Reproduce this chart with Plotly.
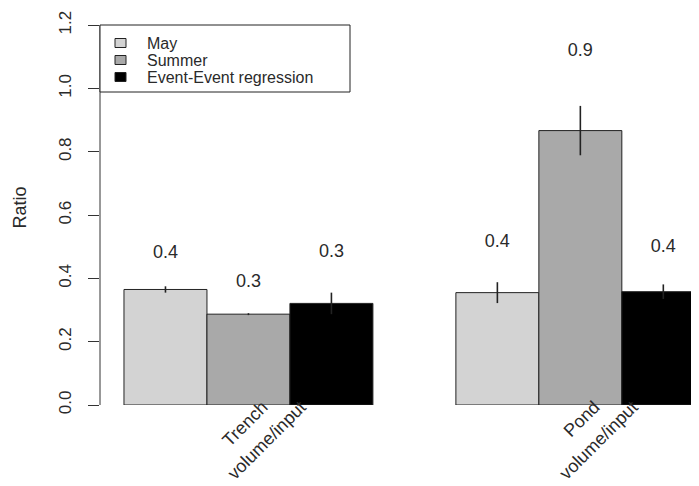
import plotly.graph_objects as go

sites = ["Trench", "Pond"]
site_sub = "volume/input"
series = ["May", "Summer", "Event-Event regression"]
values = {
    "May": [0.365, 0.355],
    "Summer": [0.287, 0.867],
    "Event-Event regression": [0.321, 0.358],
}
errors = {
    "May": [0.010, 0.033],
    "Summer": [0.003, 0.078],
    "Event-Event regression": [0.034, 0.023],
}
labels = {
    "May": ["0.4", "0.4"],
    "Summer": ["0.3", "0.9"],
    "Event-Event regression": ["0.3", "0.4"],
}
colors = {"May": "#d3d3d3", "Summer": "#a9a9a9", "Event-Event regression": "#000000"}
ytick_vals = [0.0, 0.2, 0.4, 0.6, 0.8, 1.0, 1.2]
ytick_text = ["0.0", "0.2", "0.4", "0.6", "0.8", "1.0", "1.2"]

FONT = "Liberation Sans, Arial, sans-serif"
TXT = "#2a2a2a"
OFF = 8  # page body margin
W, H = 699 - OFF, 486 - OFF
ML, MR, MT, MB = 92, 0, 2, 81
PW, PH = W - ML - MR, H - MT - MB
YMAX = 1.248

def px_x(p):
    return (p - OFF - ML) / PW

def px_y(p):
    return (H - MB - (p - OFF)) / PH

n_series = len(series)
group_step = n_series + 1

fig = go.Figure()
for i, s in enumerate(series):
    xs = [g * group_step + i for g in range(len(sites))]
    fig.add_trace(go.Bar(
        x=xs, y=values[s], width=1, name=s, showlegend=False,
        marker=dict(color=colors[s], line=dict(color="#222222", width=1)),
        error_y=dict(type="data", array=errors[s], visible=True, color="#222222",
                     thickness=1.6, width=0),
    ))
for i, s in enumerate(series):
    xs = [g * group_step + i for g in range(len(sites))]
    ys = [v + 2 * e + 0.093 for v, e in zip(values[s], errors[s])]
    fig.add_trace(go.Scatter(
        x=xs, y=ys, mode="text", text=labels[s], showlegend=False,
        textfont=dict(family=FONT, size=18, color=TXT), hoverinfo="skip",
    ))

# y axis line from 0 to 1.2
fig.add_shape(type="line", xref="paper", x0=0, x1=0, yref="y", y0=0, y1=1.2,
              line=dict(color="#333333", width=1))

# legend box (R style)
fig.add_shape(type="rect", xref="paper", yref="paper",
              x0=px_x(100), x1=px_x(350), y0=px_y(92), y1=px_y(25),
              line=dict(color="#222222", width=1), fillcolor="white")
for i, s in enumerate(series):
    cy = 43 + 17 * i
    fig.add_shape(type="rect", xref="paper", yref="paper",
                  x0=px_x(115), x1=px_x(126), y0=px_y(cy + 4.5), y1=px_y(cy - 4.5),
                  line=dict(color="#222222", width=1), fillcolor=colors[s])
    fig.add_annotation(xref="paper", yref="paper", x=px_x(145), y=px_y(cy + 0.5),
                       text=s, showarrow=False, xanchor="left", yanchor="middle",
                       font=dict(family=FONT, size=16, color=TXT))

# x tick labels: two rotated lines per group
tvals, ttext = [], []
for g, name in enumerate(sites):
    c = g * group_step + 1
    tvals += [c + 0.17, c + 0.63]
    ttext += [name, site_sub]

fig.update_layout(
    width=W, height=H,
    margin=dict(l=ML, r=MR, t=MT, b=MB, autoexpand=False),
    plot_bgcolor="white", paper_bgcolor="white",
    barmode="overlay",
    font=dict(family=FONT, size=17, color=TXT),
    showlegend=False,
    xaxis=dict(range=[-0.789, 6.43], tickvals=tvals, ticktext=ttext,
               tickangle=-45, showgrid=False, zeroline=False, showline=False, ticks="",
               automargin=False, ticklabelstandoff=-13, tickfont=dict(size=18)),
    yaxis=dict(range=[0, YMAX], tickvals=ytick_vals, ticktext=ytick_text,
               tickangle=-90, ticks="outside", ticklen=11, tickcolor="#333333",
               showgrid=False, zeroline=False, showline=False, automargin=False,
               ticklabelstandoff=10,
               title=dict(text="Ratio", standoff=24, font=dict(size=18)),
               tickfont=dict(size=17)),
)

fig.write_html("out.html")
